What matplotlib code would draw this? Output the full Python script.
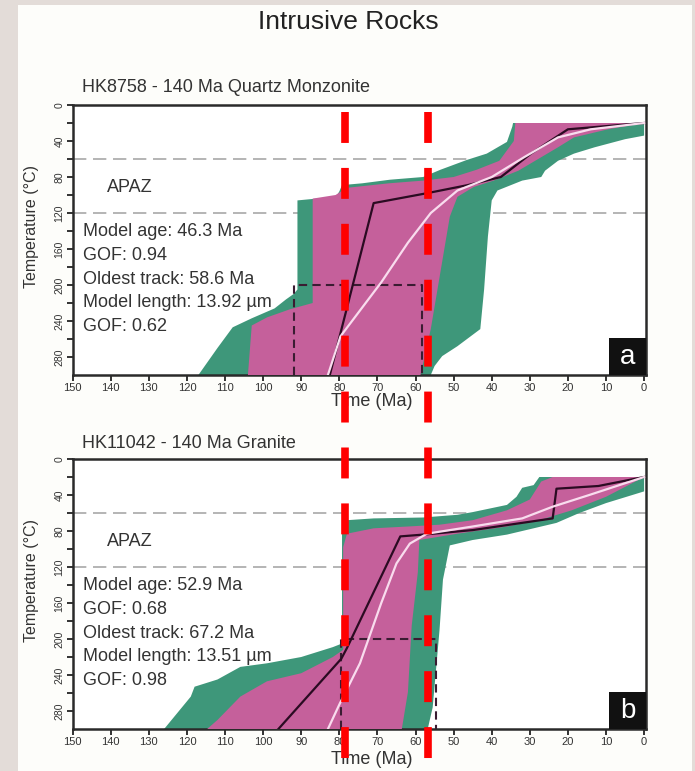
import matplotlib
matplotlib.use('Agg')
import matplotlib.pyplot as plt
from matplotlib.patches import Rectangle
from matplotlib.lines import Line2D
import matplotlib.transforms as mtransforms

plt.rcParams['font.family'] = ['Liberation Sans', 'DejaVu Sans']
NARROW = ['Liberation Sans Narrow', 'Liberation Sans', 'DejaVu Sans']

# ---------------- data (time in Ma, temperature in degC) ----------------
x_ticks = list(range(0, 151, 10))
y_ticks = list(range(0, 281, 40))
apaz_limits = [60, 120]
red_line_ages = [78.6, 56.8]

# Panel a : HK8758
a_title = "HK8758 - 140 Ma Quartz Monzonite"
a_text = ["Model age: 46.3 Ma", "GOF: 0.94", "Oldest track: 58.6 Ma",
          "Model length: 13.92 \u00b5m", "GOF: 0.62"]
a_green_time = [0, 34.4, 34.6, 36, 41.3, 46.5, 53.5, 58, 66.7, 74, 79.3, 80, 81, 86, 91,
                91, 92, 94, 97, 103, 108, 112, 117,
                56, 55, 53, 49, 43, 42, 41, 40, 38.5, 32, 27, 26, 22.6, 18.4, 13, 5, 0]
a_green_temp = [20, 20, 24, 41, 54, 61, 72, 80, 83, 87, 89, 96, 103, 104, 106,
                205, 210, 216, 226, 237, 247, 270, 300,
                300, 290, 279, 268, 249, 205, 146, 106, 95, 84, 80, 73, 62, 54, 47, 38, 34]
a_mag_time = [0, 33.8, 34.2, 38, 44, 50, 58, 67, 78, 81, 87,
              87, 93, 99, 103, 104,
              58.7, 56, 51, 49, 44.7, 39.5, 33, 27, 22.6, 18.4, 9.5, 0]
a_mag_temp = [20, 20, 40, 62, 72, 80, 84, 87, 92, 100, 104,
              220, 227, 236, 245, 300,
              300, 249, 124, 102, 91, 84, 73, 58, 47, 36, 27, 20]
a_best_time = [0, 20, 29.7, 37.6, 46.3, 57, 71, 82.5]
a_best_temp = [20, 27, 54, 80, 89, 98, 109, 300]
a_mean_time = [0, 14, 22.6, 31.5, 40, 49, 56, 62, 69, 79.7, 83]
a_mean_temp = [20, 27, 36, 58, 80, 95, 120, 153, 197, 257, 300]
a_box_time = [92, 92, 58.4, 58.4]
a_box_temp = [300, 200, 200, 300]

# Panel b : HK11042
b_title = "HK11042 - 140 Ma Granite"
b_text = ["Model age: 52.9 Ma", "GOF: 0.68", "Oldest track: 67.2 Ma",
          "Model length: 13.51 \u00b5m", "GOF: 0.98"]
b_green_time = [0, 27.5, 29, 32, 33.5, 36, 45, 49, 58, 71, 78, 79, 79.3,
                79.3, 81.7, 90, 99, 106, 112, 118, 119, 126,
                56.8, 55.5, 53.7, 52.8, 51, 45, 36, 31, 23, 17, 10, 0]
b_green_temp = [20, 20, 29, 32, 42, 51, 59, 62, 65, 66, 68, 75, 82,
                205, 209, 220, 227, 231, 245, 253, 264, 300,
                300, 276, 190, 134, 96, 90, 84, 79, 71, 60, 49, 36]
b_mag_time = [0, 24, 27, 30, 36, 45, 53.7, 62, 71, 78, 79,
              79, 81.7, 90, 99, 106, 112, 114.7,
              63.6, 62, 61, 59.4, 59, 49, 36, 27.5, 19, 10, 0]
b_mag_temp = [20, 20, 25, 45, 57, 68, 73, 75, 77, 83, 98,
              212, 220, 238, 247, 264, 290, 300,
              300, 259, 185, 126, 90, 83, 75, 68, 57, 42, 20]
b_best_time = [0, 12, 23, 24, 45, 58, 64, 78, 79.5, 96]
b_best_temp = [20, 30, 33, 66, 79, 84, 86, 210, 222, 300]
b_mean_time = [0, 14.4, 24, 32, 45, 57, 61.5, 65, 69, 74.6, 79.8, 83]
b_mean_temp = [20, 40, 53, 66, 75, 83, 94, 116, 160, 227, 271, 300]
b_box_time = [79.6, 79.6, 54.6, 54.6]
b_box_temp = [300, 200, 200, 300]

# ---------------- styling ----------------
GREEN = '#3e977a'
MAGENTA = '#c5609b'
BEST = '#2b0b22'
MEAN = '#f9dcee'
BOXC = '#3a1c32'

W, H = 695, 771
fig = plt.figure(figsize=(W / 100, H / 100), dpi=100)
fig.patch.set_facecolor('#e3dcd8')
fig.add_artist(Rectangle((18 / W, 0), 674 / W, 766 / H, transform=fig.transFigure,
                         facecolor='#fdfdfa', edgecolor='none', zorder=-10))

fig.text(348 / W, 1 - 22 / H, "Intrusive Rocks", ha='center', va='center',
         fontsize=19, color='#222222')

ax_a = fig.add_axes([72.7 / W, 1 - 375 / H, 573.3 / W, 270 / H])
ax_b = fig.add_axes([72.7 / W, 1 - 729 / H, 573.3 / W, 270 / H])

panels = [
    (ax_a, a_title, a_text, a_green_time, a_green_temp, a_mag_time, a_mag_temp,
     a_best_time, a_best_temp, a_mean_time, a_mean_temp, a_box_time, a_box_temp,
     'a', 18, -0.066),
    (ax_b, b_title, b_text, b_green_time, b_green_temp, b_mag_time, b_mag_temp,
     b_best_time, b_best_temp, b_mean_time, b_mean_temp, b_box_time, b_box_temp,
     'b', 16, -0.08),
]

for (ax, title, txt, gt, gT, mt, mT, bt, bT, wt, wT, xt, xT, letter,
     toff, xlab_y) in panels:
    ax.set_facecolor('#ffffff')
    ax.set_xlim(150, -0.5)
    ax.set_ylim(300, 0)
    for v in apaz_limits:
        ax.axhline(v, color='#a8a8a8', lw=1.2, dashes=(8, 4), zorder=1)
    ax.fill(gt, gT, color=GREEN, lw=0, zorder=2)
    ax.fill(mt, mT, color=MAGENTA, lw=0, zorder=3)
    ax.plot(xt, xT, color=BOXC, lw=1.5, dashes=(4, 2.5), zorder=4)
    ax.plot(bt, bT, color=BEST, lw=1.6, zorder=5)
    ax.plot(wt, wT, color=MEAN, lw=1.6, zorder=6)

    ax.set_xticks(x_ticks)
    ax.set_yticks(y_ticks)
    ax.set_yticks(list(range(20, 300, 40)), minor=True)
    ax.tick_params(axis='both', which='both', direction='out', length=4,
                   width=1.3, color='#222222', pad=2)
    for lab in ax.get_xticklabels():
        lab.set_family(NARROW)
        lab.set_fontsize(8)
        lab.set_color('#333333')
    for lab in ax.get_yticklabels():
        lab.set_family(NARROW)
        lab.set_fontsize(7.5)
        lab.set_rotation(90)
        lab.set_va('center')
        lab.set_color('#333333')
    for sp in ax.spines.values():
        sp.set_linewidth(1.8)
        sp.set_color('#2a2a2a')

    ax.set_ylabel("Temperature (\u00b0C)", family=NARROW, fontsize=11.5, color='#333333')
    ax.yaxis.set_label_coords(-0.059, 0.55)
    ax.set_xlabel("Time (Ma)", family=NARROW, fontsize=13, color='#333333')
    ax.xaxis.set_label_coords(0.522, xlab_y)

    ax.text(0.016, 1 + toff / 270, title, transform=ax.transAxes, ha='left',
            va='center', fontsize=13, color='#333333')
    ax.text(0.06, 1 - 92 / 300, "APAZ", transform=ax.transAxes, ha='left',
            va='center', fontsize=13, color='#333333')
    for i, line in enumerate(txt):
        ax.text(0.018, 1 - (141 + 26.3 * i) / 300, line, transform=ax.transAxes,
                ha='left', va='center', fontsize=13, color='#333333', zorder=7)

    ax.add_patch(Rectangle((1 - 37 / 573.3, 0), 37 / 573.3, 37 / 270,
                           transform=ax.transAxes, facecolor='#111111',
                           edgecolor='none', zorder=8))
    ax.text(1 - 18.5 / 573.3, 18.5 / 270, letter, transform=ax.transAxes,
            ha='center', va='center', fontsize=20, color='white', zorder=9)

# red dashed marker lines spanning both panels
for age in red_line_ages:
    trans = mtransforms.blended_transform_factory(ax_a.transData, fig.transFigure)
    ln = Line2D([age, age], [1 - 112 / H, 0], transform=trans, color='#ff0000',
                lw=5.5, dashes=(4.05, 3.27), dash_capstyle='butt', zorder=20)
    fig.add_artist(ln)

fig.savefig('out.png', dpi=100, facecolor=fig.get_facecolor())
